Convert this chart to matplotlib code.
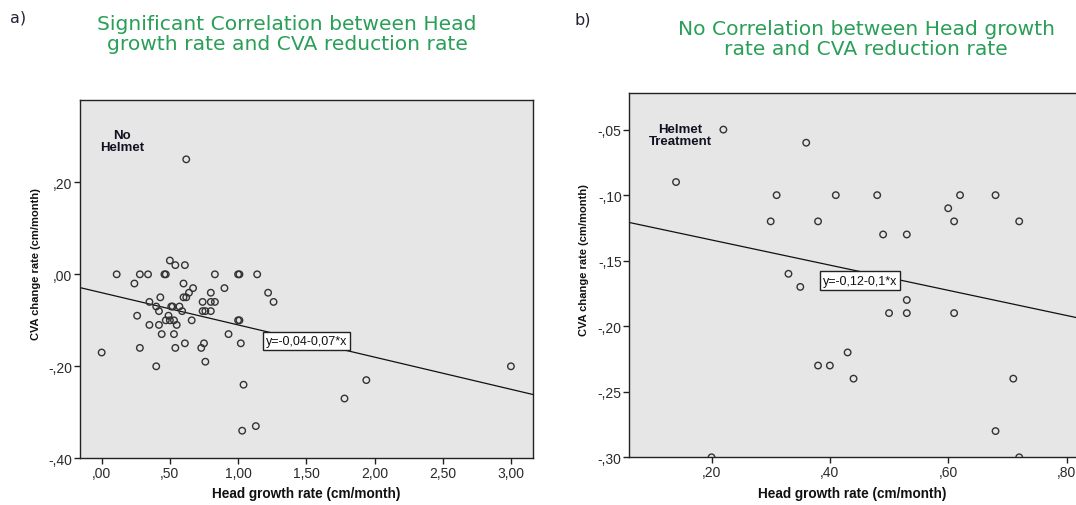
import matplotlib
matplotlib.use("Agg")
import matplotlib.pyplot as plt
import numpy as np

# ---- Data: panel a (No Helmet) ----
a_head_growth = [0.62, 0.50, 0.54, 0.61, 0.11, 0.28, 0.34, 0.46, 0.47, 0.83, 1.00, 1.01, 1.14,
                 0.24, 0.60, 0.67, 0.90, 0.64, 0.80, 1.22, 0.43, 0.60, 0.62, 0.35, 0.74, 0.80,
                 0.83, 1.26, 0.40, 0.51, 0.52, 0.57, 0.42, 0.59, 0.74, 0.76, 0.80, 0.26, 0.49,
                 0.47, 0.50, 0.53, 0.66, 1.00, 1.01, 0.35, 0.42, 0.55, 0.44, 0.53, 0.93, 0.61,
                 0.75, 1.02, 0.28, 0.54, 0.73, 0.00, 0.76, 0.40, 1.04, 1.13, 1.03, 1.78, 1.94, 3.00]
a_cva_change = [0.25, 0.03, 0.02, 0.02, 0.00, 0.00, 0.00, 0.00, 0.00, 0.00, 0.00, 0.00, 0.00,
                -0.02, -0.02, -0.03, -0.03, -0.04, -0.04, -0.04, -0.05, -0.05, -0.05, -0.06, -0.06, -0.06,
                -0.06, -0.06, -0.07, -0.07, -0.07, -0.07, -0.08, -0.08, -0.08, -0.08, -0.08, -0.09, -0.09,
                -0.10, -0.10, -0.10, -0.10, -0.10, -0.10, -0.11, -0.11, -0.11, -0.13, -0.13, -0.13, -0.15,
                -0.15, -0.15, -0.16, -0.16, -0.16, -0.17, -0.19, -0.20, -0.24, -0.33, -0.34, -0.27, -0.23, -0.20]
a_intercept, a_slope = -0.04, -0.07
a_equation = "y=-0,04-0,07*x"
a_xticks = [0.0, 0.5, 1.0, 1.5, 2.0, 2.5, 3.0]
a_xticklabels = [",00", ",50", "1,00", "1,50", "2,00", "2,50", "3,00"]
a_yticks = [-0.4, -0.2, 0.0, 0.2]
a_yticklabels = ["-,40", "-,20", ",00", ",20"]

# ---- Data: panel b (Helmet Treatment) ----
b_head_growth = [0.22, 0.36, 0.14, 0.31, 0.41, 0.48, 0.62, 0.68, 0.60, 0.30, 0.38, 0.61, 0.72,
                 0.49, 0.53, 0.33, 0.35, 0.53, 0.50, 0.53, 0.61, 0.43, 0.38, 0.40, 0.44, 0.71,
                 0.68, 0.72, 0.20]
b_cva_change = [-0.05, -0.06, -0.09, -0.10, -0.10, -0.10, -0.10, -0.10, -0.11, -0.12, -0.12, -0.12, -0.12,
                -0.13, -0.13, -0.16, -0.17, -0.18, -0.19, -0.19, -0.19, -0.22, -0.23, -0.23, -0.24, -0.24,
                -0.28, -0.30, -0.30]
b_intercept, b_slope = -0.115, -0.096
b_equation = "y=-0,12-0,1*x"
b_xticks = [0.2, 0.4, 0.6, 0.8]
b_xticklabels = [",20", ",40", ",60", ",80"]
b_yticks = [-0.30, -0.25, -0.20, -0.15, -0.10, -0.05]
b_yticklabels = ["-,30", "-,25", "-,20", "-,15", "-,10", "-,05"]

title_a = "Significant Correlation between Head\ngrowth rate and CVA reduction rate"
title_b = "No Correlation between Head growth\nrate and CVA reduction rate"
xlabel = "Head growth rate (cm/month)"
ylabel = "CVA change rate (cm/month)"

W, H = 1076, 506
fig = plt.figure(figsize=(W / 100, H / 100), dpi=100)
fig.patch.set_facecolor("white")

green = "#2a9f58"
bg = "#e6e6e6"


def style_axes(ax):
    ax.set_facecolor(bg)
    for s in ax.spines.values():
        s.set_color("#222222")
        s.set_linewidth(1.0)
    ax.tick_params(direction="out", length=4, width=1, color="#222222", pad=1.5,
                   labelsize=10, top=False, right=False)
    for lab in ax.get_xticklabels() + ax.get_yticklabels():
        lab.set_fontfamily("Liberation Sans")
        lab.set_color("#2a2a2a")


def regline(ax, intercept, slope):
    xl = np.array(ax.get_xlim())
    ax.plot(xl, intercept + slope * xl, color="#111111", lw=0.9, zorder=2)


def labels(ax, ylx, yly, xly):
    ax.set_xlabel(xlabel, fontsize=9.8, fontweight="bold", family="Liberation Sans", color="#111111")
    ax.set_ylabel(ylabel, fontsize=8.0, fontweight="bold", family="Liberation Sans", color="#111111")
    ax.yaxis.set_label_coords(ylx, yly)
    ax.xaxis.set_label_coords(0.5, xly)


# ---- Panel a ----
axa = fig.add_axes([79.7 / W, 1 - 459.3 / H, (533.3 - 79.7) / W, (459.3 - 101) / H])
axa.set_xlim(-0.161, 3.164)
axa.set_ylim(-0.40, 0.379)
regline(axa, a_intercept, a_slope)
axa.scatter(a_head_growth, a_cva_change, s=22, facecolors="none", edgecolors="#333333",
            linewidths=1.0, zorder=3)
axa.set_xticks(a_xticks)
axa.set_xticklabels(a_xticklabels)
axa.set_yticks(a_yticks)
axa.set_yticklabels(a_yticklabels)
style_axes(axa)
labels(axa, -0.0853, 0.545, -0.077)
axa.text(0.093, 0.886, "No\nHelmet", transform=axa.transAxes, ha="center", va="center",
         fontsize=9.5, fontweight="bold", family="Liberation Sans", color="#111122", linespacing=0.95)
axa.text(0.5004, 0.327, a_equation, transform=axa.transAxes, ha="center", va="center",
         fontsize=9, family="Liberation Sans", color="#111111", zorder=4,
         bbox=dict(boxstyle="square,pad=0.25", facecolor="white", edgecolor="#222222", linewidth=1))

# ---- Panel b ----
axb = fig.add_axes([629.3 / W, 1 - 458.3 / H, (W - 629.3) / W, (458.3 - 94.3) / H])
axb.set_xlim(0.061, 0.816)
axb.set_ylim(-0.30, -0.0223)
regline(axb, b_intercept, b_slope)
axb.scatter(b_head_growth, b_cva_change, s=22, facecolors="none", edgecolors="#333333",
            linewidths=1.0, zorder=3)
axb.set_xticks(b_xticks)
axb.set_xticklabels(b_xticklabels)
axb.set_yticks(b_yticks)
axb.set_yticklabels(b_yticklabels)
style_axes(axb)
axb.spines["right"].set_visible(False)
labels(axb, -0.090, 0.545, -0.079)
axb.text(0.1135, 0.8854, "Helmet\nTreatment", transform=axb.transAxes, ha="center", va="center",
         fontsize=9.5, fontweight="bold", family="Liberation Sans", color="#111122", linespacing=0.95)
axb.text(0.5165, 0.4857, b_equation, transform=axb.transAxes, ha="center", va="center",
         fontsize=9, family="Liberation Sans", color="#111111", zorder=4,
         bbox=dict(boxstyle="square,pad=0.25", facecolor="white", edgecolor="#222222", linewidth=1))

# ---- Titles and panel letters ----
fig.text(287 / W, 1 - 34.5 / H, title_a, ha="center", va="center", fontsize=14.6,
         color=green, family="DejaVu Sans", linespacing=1.12)
fig.text(866 / W, 1 - 39.5 / H, title_b, ha="center", va="center", fontsize=14.6,
         color=green, family="DejaVu Sans", linespacing=1.12)
fig.text(10 / W, 1 - 18 / H, "a)", ha="left", va="center", fontsize=11.5,
         color="#222233", family="DejaVu Sans")
fig.text(574 / W, 1 - 20 / H, "b)", ha="left", va="center", fontsize=11.5,
         color="#222233", family="DejaVu Sans")

fig.savefig("out.png", dpi=100, facecolor="white")
